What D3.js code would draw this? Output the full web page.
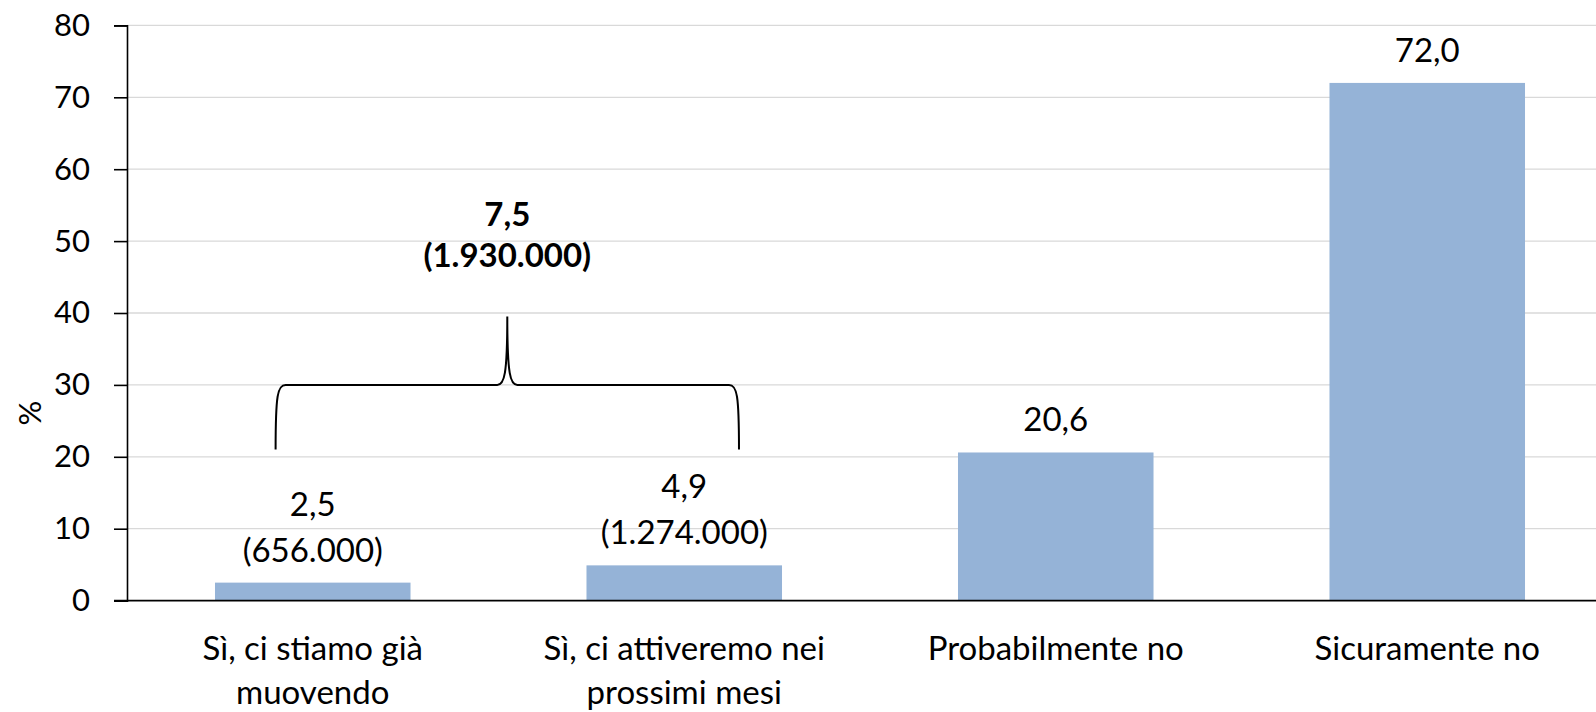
<!DOCTYPE html>
<html><head><meta charset="utf-8">
<script src="https://cdn.jsdelivr.net/npm/d3@7"></script>
<style>
html,body{margin:0;padding:0;background:#fff;overflow:hidden}
text{font-family:Lato,"Open Sans",sans-serif;fill:#000}
</style></head><body>
<svg id="chart" width="1596" height="712"></svg>
<script>
const categories = [["Sì, ci stiamo già","muovendo"],["Sì, ci attiveremo nei","prossimi mesi"],["Probabilmente no"],["Sicuramente no"]];
const values = [2.5, 4.9, 20.6, 72.0];
const valueLabels = ["2,5", "4,9", "20,6", "72,0"];
const countLabels = ["(656.000)", "(1.274.000)", null, null];
const yTicks = [0,10,20,30,40,50,60,70,80];
const yTitle = "%";
const braceTotal = ["7,5", "(1.930.000)"];
const braceLevels = {bottom: 21, line: 30, tip: 39.5, text1: 53.8, text2: 48.1};

const svg = d3.select("#chart");
const W = 1596, H = 712;
const m = {left:127, top:25.4, bottom:111.4};
const plotRight = 1613;
const keys = categories.map((c,i)=>i);
const x = d3.scaleBand().domain(keys).range([m.left, plotRight]).paddingInner(0.9/1.9).paddingOuter(0.45/1.9);
const y = d3.scaleLinear().domain([0,80]).range([H-m.bottom, m.top]);
const fsTick = 31, fsVal = 33, fsCat = 33;

// gridlines
svg.append("g").selectAll("line").data(yTicks.slice(1)).join("line")
  .attr("x1", m.left).attr("x2", W).attr("y1", d=>y(d)).attr("y2", d=>y(d))
  .attr("stroke", "#d9d9d9").attr("stroke-width", 1.3);

// bars
svg.append("g").selectAll("rect").data(values).join("rect")
  .attr("x", (d,i)=>x(i)).attr("width", x.bandwidth())
  .attr("y", d=>y(d)).attr("height", d=>y(0)-y(d))
  .attr("fill", "#95b3d7");

// y axis
const yAxis = d3.axisLeft(y).tickValues(yTicks).tickSize(13).tickPadding(24).tickFormat(d3.format("d"));
const ga = svg.append("g").attr("transform", `translate(${m.left},0)`).call(yAxis);
ga.select(".domain").attr("stroke","#000").attr("stroke-width",1.6);
ga.selectAll(".tick line").attr("stroke","#000").attr("stroke-width",1.6);
ga.selectAll(".tick text").attr("font-size", fsTick).attr("font-family","Lato").attr("fill","#000");

// x axis line
svg.append("line").attr("x1", m.left-13).attr("x2", W).attr("y1", y(0)).attr("y2", y(0))
  .attr("stroke","#000").attr("stroke-width",1.6);

// y title
svg.append("text").attr("transform", `translate(41,${(y(0)+y(80))/2 + 100}) rotate(-90)`)
  .attr("text-anchor","middle").attr("font-size", fsTick).text(yTitle);

// category labels
const cg = svg.append("g").selectAll("text").data(categories).join("text")
  .attr("text-anchor","middle").attr("font-size", fsCat)
  .attr("x", (d,i)=>x(i)+x.bandwidth()/2).attr("y", 660);
cg.selectAll("tspan").data(d=>d).join("tspan")
  .attr("x", function(){return this.parentNode.getAttribute("x");})
  .attr("dy", (d,j)=> j===0 ? 0 : 44).text(d=>d);

// value labels
svg.append("g").selectAll("text").data(values).join("text")
  .attr("text-anchor","middle").attr("font-size", fsVal)
  .attr("x", (d,i)=>x(i)+x.bandwidth()/2)
  .attr("y", (d,i)=> countLabels[i] ? y(d)-67 : y(d)-21)
  .text((d,i)=>valueLabels[i]);
svg.append("g").selectAll("text").data(values).join("text")
  .filter((d,i)=>countLabels[i])
  .attr("text-anchor","middle").attr("font-size", fsVal)
  .attr("x", (d,i)=>x(i)+x.bandwidth()/2)
  .attr("y", (d,i)=> y(d)-21)
  .text((d,i)=>countLabels[i]);

// brace
const xl = x(0) + x.bandwidth()*0.31;
const xr = x(1) + x.bandwidth()*0.78;
const xc = (xl+xr)/2;
const yb = y(braceLevels.bottom), yl = y(braceLevels.line), yt = y(braceLevels.tip);
const r = 10;
const p = d3.path();
p.moveTo(xl, yb);
p.bezierCurveTo(xl, yl+10, xl+2, yl, xl+r, yl);
p.lineTo(xc-r, yl);
p.bezierCurveTo(xc-3, yl, xc, yl-10, xc, yt);
p.bezierCurveTo(xc, yl-10, xc+3, yl, xc+r, yl);
p.lineTo(xr-r, yl);
p.bezierCurveTo(xr-2, yl, xr, yl+10, xr, yb);
svg.append("path").attr("d", p.toString()).attr("fill","none").attr("stroke","#000").attr("stroke-width",2);

svg.append("text").attr("x", xc).attr("y", y(braceLevels.text1)+12).attr("text-anchor","middle")
  .attr("font-size", fsVal).attr("font-weight","bold").text(braceTotal[0]);
svg.append("text").attr("x", xc).attr("y", y(braceLevels.text2)+12).attr("text-anchor","middle")
  .attr("font-size", fsVal).attr("font-weight","bold").text(braceTotal[1]);
</script></body></html>
